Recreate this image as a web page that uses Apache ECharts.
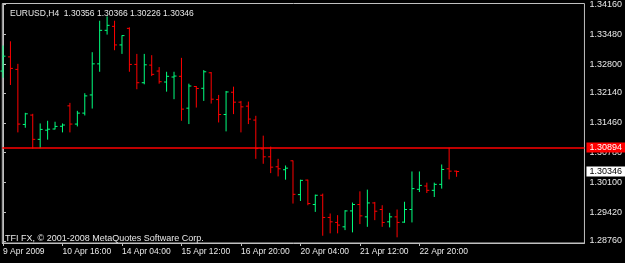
<!DOCTYPE html>
<html><head><meta charset="utf-8">
<script src="https://cdn.jsdelivr.net/npm/echarts@6/dist/echarts.min.js"></script>
<style>html,body{margin:0;padding:0;background:#000;} #c{width:625px;height:263px;}</style>
</head><body><div id="c"></div>
<script>
const symbolName = 'EURUSD,H4';
const copyrightText = 'TFI FX, © 2001-2008 MetaQuotes Software Corp.';
const opens  = [1.32640,1.32964,1.32678,1.31421,1.31635,1.31081,1.31290,1.31317,1.31380,1.31846,
                1.31430,1.31680,1.32095,1.32805,1.33570,1.33661,1.33237,1.33615,1.32792,1.32374,
                1.32776,1.32640,1.32390,1.32504,1.32520,1.31793,1.32288,1.32247,1.32601,1.31989,
                1.31648,1.32157,1.31930,1.31839,1.31521,1.30863,1.30682,1.30455,1.30387,1.30591,
                1.29819,1.30151,1.29593,1.29804,1.29298,1.29184,1.29084,1.29447,1.29593,1.29311,
                1.29629,1.29479,1.29198,1.29311,1.29191,1.29479,1.29940,1.30015,1.29917,1.30053,
                1.30409,1.30356];
const highs  = [1.33223,1.33320,1.32805,1.31687,1.31664,1.31444,1.31505,1.31483,1.31444,1.31914,
                1.31732,1.32134,1.33071,1.33790,1.33888,1.33790,1.33457,1.33638,1.33032,1.33032,
                1.33003,1.32731,1.32624,1.32624,1.32942,1.32352,1.32299,1.32662,1.32617,1.32095,
                1.32186,1.32284,1.31959,1.31943,1.31619,1.31165,1.30915,1.30636,1.30484,1.30598,
                1.30160,1.30160,1.29819,1.29842,1.29388,1.29350,1.29463,1.29638,1.29894,1.29933,
                1.29652,1.29577,1.29402,1.29479,1.29656,1.30348,1.30348,1.30092,1.30092,1.30507,
                1.30890,1.30366];
const lows   = [1.32488,1.32322,1.31240,1.31346,1.30870,1.30877,1.31074,1.31308,1.31240,1.31240,
                1.31376,1.31626,1.31784,1.32624,1.33473,1.33116,1.33032,1.32624,1.32225,1.32338,
                1.32526,1.32352,1.32170,1.31998,1.31505,1.31430,1.31807,1.31959,1.31898,1.31467,
                1.31263,1.31657,1.31240,1.31430,1.30636,1.30523,1.30310,1.30235,1.30160,1.29615,
                1.29674,1.29577,1.29425,1.28880,1.28935,1.28935,1.29009,1.28957,1.29146,1.29084,
                1.29236,1.29084,1.29071,1.28844,1.29175,1.29184,1.29878,1.29856,1.29765,1.29956,
                1.30167,1.30226];
const closes = [1.32980,1.32701,1.31430,1.31664,1.31081,1.31308,1.31312,1.31376,1.31408,1.31430,
                1.31680,1.32073,1.32805,1.33570,1.33684,1.33237,1.33450,1.32792,1.32374,1.32783,
                1.32565,1.32397,1.32520,1.32526,1.31771,1.32299,1.32243,1.32624,1.31998,1.31648,
                1.32163,1.31930,1.31823,1.31544,1.30870,1.30682,1.30446,1.30409,1.30423,1.29826,
                1.30144,1.29615,1.29804,1.29298,1.29198,1.29123,1.29447,1.29593,1.29334,1.29629,
                1.29440,1.29184,1.29311,1.29184,1.29479,1.29956,1.30030,1.29917,1.30053,1.30393,
                1.30355,1.30346];
const timeLabels = ['9 Apr 2009','10 Apr 16:00','14 Apr 04:00','15 Apr 12:00','16 Apr 20:00','20 Apr 04:00','21 Apr 12:00','22 Apr 20:00'];
const timeLabelIdx = [0,8,16,24,32,40,48,56];
const priceTicks = [1.3416,1.3348,1.3280,1.3214,1.3146,1.3078,1.3010,1.2942,1.2876];
const hLineLevel = 1.30894;
const bidPrice = 1.30346;

const UP = '#00ff7f', DOWN = '#ff0000', TXT = '#e8e8e8', AX = '#c0c0c0';
const FONT = '"Liberation Sans", Arial, sans-serif';
const X_MIN = -0.094, X_MAX = 78.2;
const last = opens.length - 1;
const titleText = symbolName + '  ' + [opens[last], highs[last], lows[last], closes[last]].map(v => v.toFixed(5)).join(' ');

const data = opens.map((o, i) => [i, o, closes[i], lows[i], highs[i]]);

function renderItem(params, api) {
  const i = api.value(0), o = api.value(1), c = api.value(2), l = api.value(3), h = api.value(4);
  const pH = api.coord([i, h]), pL = api.coord([i, l]), pO = api.coord([i, o]), pC = api.coord([i, c]);
  const color = c >= o ? UP : DOWN;
  const x = pH[0], t = 2.5;
  const st = {stroke: color, lineWidth: 1};
  return {type: 'group', children: [
    {type: 'line', shape: {x1: x, y1: pH[1], x2: x, y2: pL[1]}, style: st},
    {type: 'line', shape: {x1: x - t, y1: pO[1], x2: x, y2: pO[1]}, style: st},
    {type: 'line', shape: {x1: x, y1: pC[1], x2: x + t, y2: pC[1]}, style: st}
  ]};
}

const chart = echarts.init(document.getElementById('c'), null, {renderer: 'canvas'});
chart.setOption({
  backgroundColor: '#000000',
  animation: false,
  title: {text: titleText, left: 5, top: 4, textStyle: {color: TXT, fontSize: 8.5, fontWeight: 'normal', fontFamily: FONT}},
  grid: {left: 2, right: 39, top: 2, bottom: 20, show: true, borderColor: AX, borderWidth: 1},
  xAxis: {
    type: 'value', min: X_MIN, max: X_MAX,
    splitLine: {show: false},
    axisLine: {show: true, lineStyle: {color: AX}},
    axisTick: {show: true, customValues: timeLabelIdx, length: 3, lineStyle: {color: AX}},
    axisLabel: {customValues: timeLabelIdx, formatter: v => timeLabels[timeLabelIdx.indexOf(v)] || '',
      align: 'left', margin: 4, color: TXT, fontSize: 8.5, fontFamily: FONT}
  },
  yAxis: {
    type: 'value', position: 'right', min: 1.287144, max: 1.3418269,
    splitLine: {show: false},
    axisLine: {show: true, lineStyle: {color: AX}},
    axisTick: {show: true, customValues: priceTicks, length: 3, lineStyle: {color: AX}},
    axisLabel: {customValues: priceTicks, formatter: v => v.toFixed(5), margin: 5, color: TXT, fontSize: 9, fontFamily: FONT}
  },
  series: [{
    type: 'custom', renderItem: renderItem, data: data,
    encode: {x: 0, y: [1, 2, 3, 4]},
    markLine: {
      symbol: 'none', silent: true, animation: false, precision: 5,
      lineStyle: {color: '#ff0000', width: 1.5, type: 'solid', opacity: 1},
      label: {show: false},
      data: [{yAxis: hLineLevel}]
    }
  }]
});

// price tags on the right axis, positioned through the chart's own scales
const yLine = chart.convertToPixel({yAxisIndex: 0}, hLineLevel);
const yBid = chart.convertToPixel({yAxisIndex: 0}, bidPrice);
const xRight = chart.convertToPixel({xAxisIndex: 0}, X_MAX);
function tag(y, bg, fg, val) {
  return {type: 'group', z: 100, children: [
    {type: 'rect', shape: {x: xRight + 2, y: y - 5, width: 40, height: 10}, style: {fill: bg}, z: 100},
    {type: 'text', x: xRight + 5, y: y, style: {text: val.toFixed(5), fill: fg, fontSize: 9, fontFamily: FONT, verticalAlign: 'middle', align: 'left'}, z: 101}
  ]};
}
chart.setOption({
  graphic: [
    {type: 'text', left: 5, top: 234, style: {text: copyrightText, fill: TXT, fontSize: 9, fontFamily: FONT}},
    tag(yLine, '#ff0000', '#ffffff', hLineLevel),
    tag(yBid, '#ffffff', '#000000', bidPrice)
  ]
});
</script></body></html>
